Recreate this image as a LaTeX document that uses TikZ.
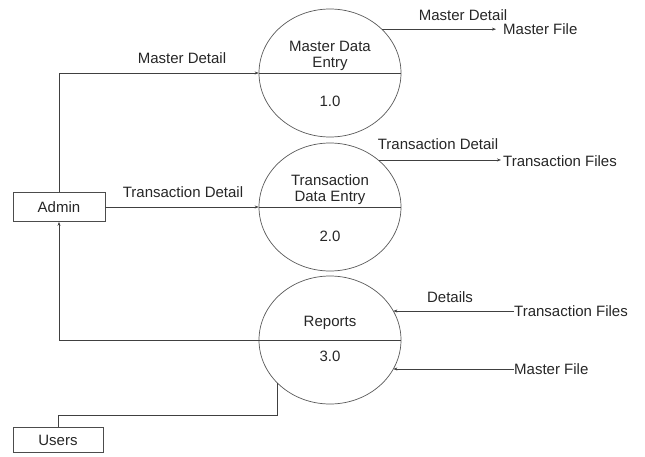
\documentclass[tikz,border=0pt]{standalone}
\usepackage{fontspec}
\setmainfont{Liberation Sans}
\usetikzlibrary{shapes.geometric,arrows.meta}
\begin{document}
\begin{tikzpicture}[x=1pt,y=-1pt,
  every node/.style={font=\fontsize{15}{17}\selectfont, text=black!85},
  proc/.style={draw=black!65, line width=0.7pt, ellipse, minimum width=142pt, minimum height=128pt, inner sep=0pt},
  ent/.style={draw=black!70, line width=0.7pt, rectangle, inner sep=0pt},
  flow/.style={draw=black!75, line width=0.6pt},
  arr/.style={flow, -{Stealth[length=4pt,width=3pt]}},
  lbl/.style={inner sep=0pt, align=center}]
\useasboundingbox (0,0) rectangle (645,456);

% processes
\node[proc] (c1) at (330,73) {};
\node[proc] (c2) at (330,207) {};
\node[proc] (c3) at (330,340) {};
\draw[flow] (c1.west) -- (c1.east);
\draw[flow] (c2.west) -- (c2.east);
\draw[flow] (c3.west) -- (c3.east);
\node[lbl] (t1) at (330,56) {Master Data\\[-1pt]Entry};
\node[lbl] (n1) at (330,101) {1.0};
\node[lbl] (t2) at (330,190) {Transaction\\[-1pt]Data Entry};
\node[lbl] (n2) at (330,236) {2.0};
\node[lbl] (t3) at (330,323) {Reports};
\node[lbl] (n3) at (330,356) {3.0};

% entities
\node[ent, minimum width=92pt, minimum height=29pt] (admin) at (59,207) {Admin};
\node[ent, minimum width=90pt, minimum height=25pt] (users) at (58,440) {Users};

% left flows
\draw[arr] (admin.north) |- (c1.west);
\node[lbl] (l1) at (182,58) {Master Detail};
\draw[arr] (admin.east) -- (c2.west);
\node[lbl] (l2) at (183,192) {Transaction Detail};
\draw[arr] (c3.west) -| (admin.south);
\coordinate (ub) at (0,415);
\draw[flow] (users.north) |- (c3.219 |- ub) -- (c3.219);

% right side stores
\node[lbl, anchor=west] (mf1) at (503,29) {Master File};
\draw[arr, shorten >=7pt] (c1.40) -- (c1.40 -| mf1.west);
\node[lbl] (l3) at (463,15) {Master Detail};

\node[lbl, anchor=west] (tf1) at (503,161) {Transaction Files};
\draw[arr, shorten >=2pt] (c2.44) -- (c2.44 -| tf1.west);
\node[lbl] (l4) at (438,144) {Transaction Detail};

\node[lbl, anchor=west] (tf2) at (514,311) {Transaction Files};
\draw[arr] (tf2.west) -- (tf2.west -| c3.25);
\node[lbl] (l5) at (450,297) {Details};

\node[lbl, anchor=west] (mf2) at (514,369) {Master File};
\draw[arr] (mf2.west) -- (mf2.west -| c3.335);
\end{tikzpicture}
\end{document}
